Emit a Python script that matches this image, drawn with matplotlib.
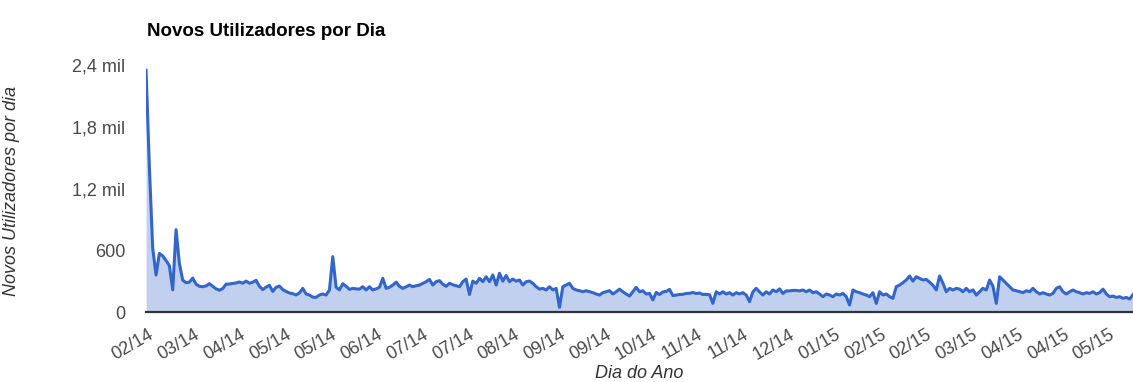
import numpy as np
import matplotlib
matplotlib.use("Agg")
import matplotlib.pyplot as plt

plt.rcParams['font.family'] = ['Liberation Sans', 'DejaVu Sans']

# Novos utilizadores por dia (amostras consecutivas, fev/2014 a mai/2015)
novos_a = [2350, 1410, 620, 360, 570, 545, 500, 450, 215, 800,
           470, 310, 285, 290, 330, 270, 250, 246, 253, 275,
           250, 225, 212, 228, 270, 272, 278, 282, 292, 280,
           300, 280, 290, 308, 250, 218, 242, 260, 200, 240,
           252, 218, 200, 185, 178, 166, 185, 230, 175, 165]
novos_b = [145, 142, 165, 175, 165, 214, 538, 240, 215, 275,
           250, 220, 230, 225, 222, 246, 214, 246, 214, 225,
           240, 327, 230, 240, 262, 290, 250, 230, 245, 262,
           246, 255, 262, 279, 295, 317, 262, 295, 305, 270,
           250, 279, 265, 255, 246, 295, 320, 170, 300]
novos_c = [279, 327, 295, 343, 295, 360, 262, 376, 300, 355,
           295, 320, 300, 311, 262, 295, 301, 279, 246, 222,
           230, 214, 246, 214, 230, 45, 246, 262, 279, 230,
           214, 207, 197, 207, 197, 188, 175, 165, 188, 197,
           207, 175, 197, 222, 197, 175, 155, 197, 240, 197]
novos_d = [207, 175, 181, 117, 190, 170, 195, 200, 220, 160,
           165, 170, 172, 180, 182, 190, 180, 185, 170, 172,
           168, 84, 197, 175, 197, 175, 188, 165, 188, 175,
           188, 165, 100, 197, 230, 195, 165, 197, 175, 214,
           197, 225, 180, 205, 205, 210, 210, 205, 214, 197]
novos_e = [214, 188, 197, 175, 149, 175, 165, 149, 175, 165,
           181, 150, 68, 214, 197, 188, 175, 165, 149, 188,
           84, 197, 165, 175, 149, 133, 246, 262, 285, 311,
           350, 300, 343, 327, 311, 317, 290, 260, 214, 350,
           279, 197, 230, 214, 230, 222, 197, 230, 197, 215]
novos_f = [165, 197, 230, 214, 311, 250, 84, 343, 311, 279,
           246, 214, 207, 197, 188, 207, 197, 230, 197, 175,
           188, 175, 165, 181, 230, 246, 197, 175, 197, 214,
           197, 188, 175, 188, 181, 197, 175, 188, 222, 175,
           149, 155, 142, 149, 133, 142, 126, 170]

novos = np.array(novos_a + novos_b + novos_c + novos_d + novos_e + novos_f)
dias = np.arange(len(novos))

rotulos_x = ['02/14', '03/14', '04/14', '05/14', '05/14', '06/14', '07/14',
             '07/14', '08/14', '09/14', '09/14', '10/14', '11/14', '11/14',
             '12/14', '01/15', '02/15', '02/15', '03/15', '04/15', '04/15',
             '05/15']
ticks_y = [0, 600, 1200, 1800, 2400]
rotulos_y = ['0', '600', '1,2 mil', '1,8 mil', '2,4 mil']

fig = plt.figure(figsize=(11.33, 3.82), dpi=100)
ax = fig.add_axes([0.1289, 0.1832, 0.8711, 0.6466])

azul = '#3366cc'
ax.fill_between(dias, novos, 0, color=azul, alpha=0.3, linewidth=0)
ax.plot(dias, novos, color=azul, linewidth=2.2)

ax.set_xlim(0, 296)
ax.set_ylim(0, 2400)

pos_x = np.linspace(0.6, 288.9, len(rotulos_x))
ax.set_xticks(pos_x)
ax.set_xticklabels(rotulos_x, rotation=30, ha='right', rotation_mode='anchor',
                   fontsize=13, color='#4a4a4a')
ax.set_yticks(ticks_y)
ax.set_yticklabels(rotulos_y, fontsize=13, color='#4a4a4a')
ax.tick_params(axis='both', length=0)
ax.tick_params(axis='y', pad=15)
ax.tick_params(axis='x', pad=10)

for lado in ['top', 'right', 'left']:
    ax.spines[lado].set_visible(False)
ax.spines['bottom'].set_color('#333333')
ax.spines['bottom'].set_linewidth(1.6)

ax.set_ylabel('Novos Utilizadores por dia', fontsize=13, style='italic', color='#333333')
ax.yaxis.set_label_coords(-0.1277, 0.49)
ax.set_xlabel('Dia do Ano', fontsize=13, style='italic', color='#333333')
ax.xaxis.set_label_coords(0.5, -0.25)
ax.xaxis.label.set_va('center')

ax.text(0.001, 1.135, 'Novos Utilizadores por Dia', transform=ax.transAxes,
        fontsize=13.5, fontweight='bold', color='#000000', va='center', ha='left')

fig.savefig('out.png', dpi=100)
